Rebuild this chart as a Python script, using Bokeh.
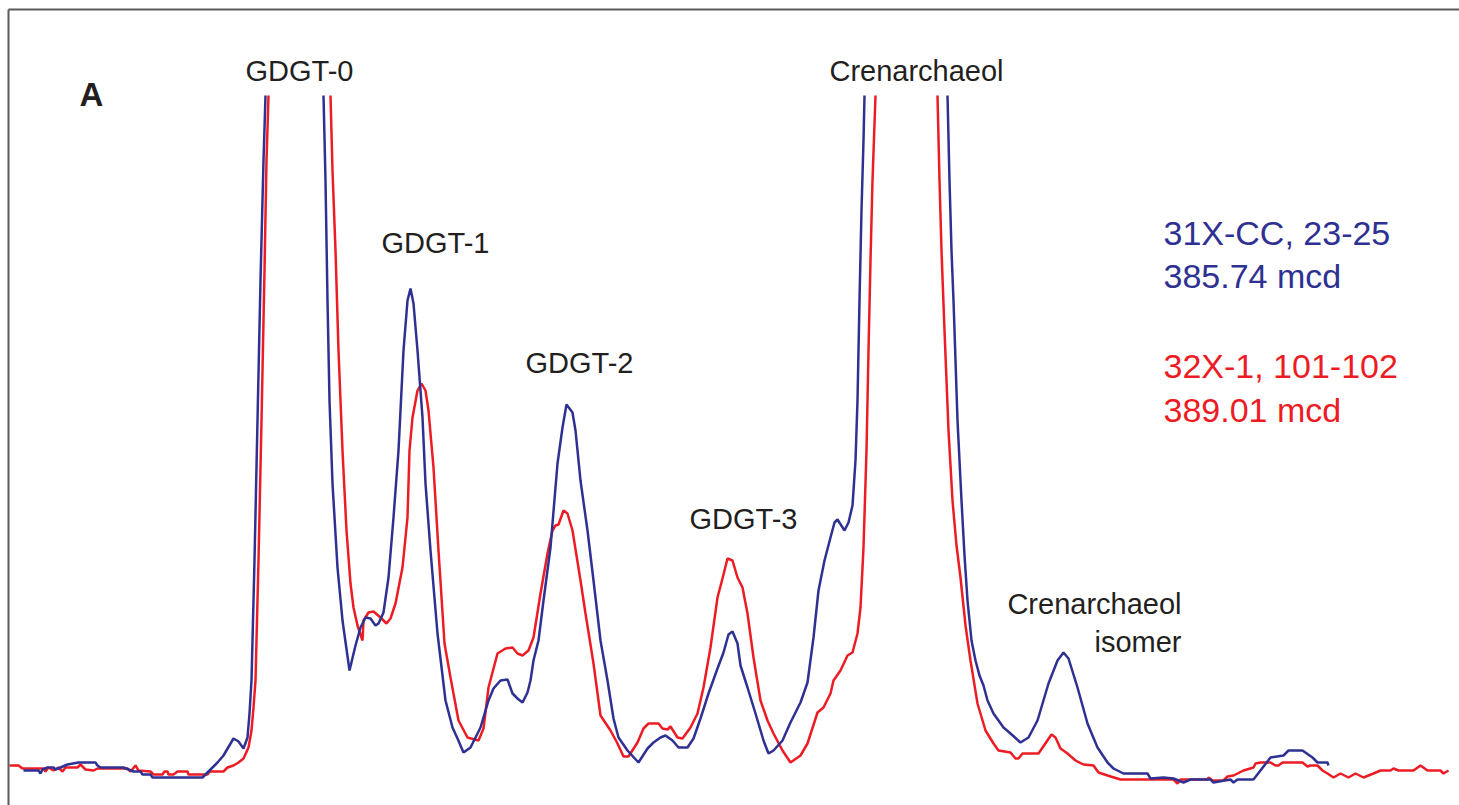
import math
from bokeh.plotting import figure
from bokeh.models import Range1d, LinearAxis, FixedTicker, ColumnDataSource
from bokeh.core.properties import value
from bokeh.embed import file_html
from bokeh.resources import INLINE

NaN = float("nan")

# Chromatogram traces: x = scan position, y = relative intensity (off-scale peaks stop at 695)
blue_x = [23, 38, 40, 42, 47, 53, 55, 60, 67, 78, 95, 97, 100, 123, 133, 140, 142, 150, 152, 202,
          205, 210, 217, 223, 233, 238, 243, 247, 249, 251, 254, 257, 260, 263, 265,
          NaN,
          323, 325, 327, 329, 332, 337, 342, 349, 355, 360, 365, 370, 375, 378, 383, 388, 393, 398, 403, 407,
          410, 413, 417, 422, 425, 430, 437, 445, 452, 457, 463, 470, 480, 488, 493, 500, 507, 512, 517, 522,
          527, 530, 533, 538, 543, 550, 557, 562, 566, 572, 575, 580, 587, 593, 600, 607, 613, 618, 627, 638,
          647, 653, 660, 665, 672, 678, 687, 693, 700, 708, 717, 723, 728, 732, 737, 740, 747, 755, 763, 768,
          773, 782, 790, 800, 807, 813, 818, 824, 830, 834, 837, 844, 848, 852, 855, 857, 859, 861, 863, 864,
          NaN,
          947, 949, 951, 953, 957, 961, 964, 967, 971, 975, 979, 983, 987, 993, 1003, 1010, 1020, 1028, 1037, 1048,
          1057, 1063, 1068, 1077, 1087, 1097, 1107, 1113, 1123, 1147, 1150, 1163, 1173, 1183, 1190, 1210, 1213, 1230,
          1233, 1237, 1253, 1270, 1283, 1288, 1302, 1312, 1317, 1327, 1328]
blue_y = [20, 20, 17, 21, 23, 23, 21, 23, 26, 28, 28, 25, 23, 23, 19, 19, 16, 16, 13, 13,
          16, 21, 28, 35, 52, 49, 42, 53, 77, 110, 230, 370, 510, 630, 695,
          NaN,
          695, 610, 490, 390, 307, 223, 170, 120, 145, 163, 173, 172, 165, 167, 178, 213, 273, 340, 440, 490,
          502, 487, 440, 373, 307, 240, 157, 90, 63, 52, 38, 43, 63, 90, 102, 110, 111, 97, 92, 88,
          98, 110, 130, 150, 190, 243, 327, 363, 386, 378, 360, 310, 260, 210, 150, 110, 72, 53, 40, 28,
          42, 48, 53, 55, 50, 43, 43, 52, 72, 97, 122, 138, 156, 159, 147, 125, 103, 77, 50, 37,
          40, 50, 68, 88, 108, 153, 200, 230, 253, 268, 271, 260, 268, 285, 330, 390, 490, 580, 650, 695,
          NaN,
          695, 610, 540, 490, 370, 290, 235, 190, 150, 130, 115, 105, 90, 77, 63, 57, 48, 53, 70, 107,
          130, 138, 132, 103, 67, 43, 28, 22, 17, 17, 12, 13, 12, 8, 11, 11, 8, 11,
          8, 11, 11, 33, 35, 40, 40, 33, 28, 28, 25]

red_x = [9, 18, 22, 43, 45, 48, 53, 58, 62, 65, 77, 80, 85, 93, 97, 127, 130, 135, 138, 150,
         153, 162, 164, 167, 168, 173, 177, 187, 188, 207, 209, 223, 227, 233, 238, 243, 248, 251, 253, 255,
         258, 261, 264, 266, 268,
         NaN,
         330, 332, 335, 338, 342, 346, 350, 353, 357, 362, 363, 368, 373, 380, 386, 390, 395, 402, 407, 409,
         412, 417, 421, 425, 428, 433, 438, 444, 450, 458, 467, 478, 483, 488, 497, 505, 512, 517, 522, 528,
         533, 540, 547, 552, 555, 558, 563, 567, 572, 580, 585, 593, 600, 610, 617, 623, 628, 637, 643, 648,
         658, 662, 667, 670, 677, 682, 690, 697, 703, 710, 717, 722, 727, 732, 737, 742, 747, 753, 760, 767,
         773, 782, 790, 800, 807, 817, 823, 830, 833, 840, 847, 852, 857, 860, 863, 866, 868, 870, 872, 875,
         NaN,
         937, 939, 941, 944, 948, 952, 956, 960, 965, 970, 977, 985, 993, 998, 1010, 1015, 1018, 1022, 1038, 1051,
         1055, 1060, 1067, 1075, 1083, 1093, 1098, 1107, 1120, 1173, 1177, 1180, 1207, 1208, 1212, 1223, 1227, 1233,
         1243, 1253, 1255, 1260, 1270, 1275, 1278, 1282, 1302, 1307, 1310, 1317, 1322, 1327, 1333, 1340, 1348, 1355,
         1363, 1373, 1380, 1390, 1393, 1398, 1413, 1420, 1427, 1440, 1443, 1448]
red_y = [25, 25, 22, 22, 19, 23, 20, 23, 19, 23, 23, 26, 21, 20, 22, 22, 19, 25, 20, 19,
         16, 16, 19, 19, 16, 16, 19, 19, 16, 16, 19, 19, 23, 25, 28, 32, 43, 60, 83, 110,
         230, 370, 520, 630, 695,
         NaN,
         695, 620, 540, 440, 340, 260, 207, 183, 165, 150, 170, 178, 179, 173, 167, 172, 187, 223, 273, 340,
         373, 400, 407, 400, 380, 323, 240, 147, 113, 70, 53, 50, 62, 103, 137, 142, 143, 137, 135, 140,
         153, 197, 237, 260, 265, 266, 280, 277, 260, 210, 177, 127, 75, 60, 47, 34, 34, 48, 62, 67,
         67, 62, 61, 64, 53, 52, 63, 77, 103, 143, 193, 212, 232, 230, 213, 203, 177, 133, 90, 70,
         57, 40, 28, 35, 47, 78, 83, 97, 110, 120, 135, 138, 157, 183, 243, 340, 440, 530, 610, 695,
         NaN,
         695, 610, 540, 460, 360, 290, 245, 213, 165, 130, 87, 60, 47, 40, 38, 32, 32, 37, 37, 56,
         53, 42, 37, 30, 26, 25, 18, 15, 11, 11, 7, 11, 11, 13, 10, 10, 14, 15,
         20, 23, 27, 28, 28, 25, 25, 28, 28, 24, 25, 25, 20, 17, 13, 17, 13, 17,
         13, 17, 20, 20, 22, 20, 20, 25, 20, 20, 17, 20]

# Peak labels
peak_labels = ["GDGT-0", "GDGT-1", "GDGT-2", "GDGT-3", "Crenarchaeol"]
peak_label_x = [299, 435, 579, 743, 916]
peak_label_y = [720, 548, 428, 272, 720]

isomer_labels = ["Crenarchaeol", "isomer"]
isomer_label_x = [1181, 1181]
isomer_label_y = [187, 149]

# Sample legend
blue_sample = ["31X-CC, 23-25", "385.74 mcd"]
red_sample = ["32X-1, 101-102", "389.01 mcd"]
legend_x = 1163
blue_legend_y = [558, 515]
red_legend_y = [425, 381]

BLUE = "#2E3192"
RED = "#ED1C24"
FONT = value("Liberation Sans")

p = figure(width=1459, height=805, output_backend="svg", toolbar_location=None,
           x_axis_type=None, y_axis_type=None,
           x_range=Range1d(8, 1459), y_range=Range1d(-15, 781),
           min_border_left=8, min_border_top=9, min_border_right=0, min_border_bottom=0)
p.outline_line_color = None
p.background_fill_color = "white"
p.border_fill_color = "white"

for loc in ("left", "above"):
    ax = LinearAxis(ticker=FixedTicker(ticks=[]), major_tick_out=0, major_tick_in=0,
                    minor_tick_out=0, minor_tick_in=0, major_label_standoff=0,
                    major_label_text_font_size="0px",
                    axis_line_color="#5a5a5a", axis_line_width=2)
    p.add_layout(ax, loc)

p.line(red_x, red_y, line_color=RED, line_width=2.5)
p.line(blue_x, blue_y, line_color=BLUE, line_width=2.5)

p.text(x=peak_label_x, y=peak_label_y, text=peak_labels, text_font=FONT,
       text_font_size="29px", text_color="#231F20", text_align="center", text_baseline="alphabetic")
p.text(x=isomer_label_x, y=isomer_label_y, text=isomer_labels, text_font=FONT,
       text_font_size="29px", text_color="#231F20", text_align="right", text_baseline="alphabetic")
p.text(x=[79], y=[696], text=["A"], text_font=FONT, text_font_style="bold",
       text_font_size="33px", text_color="#231F20", text_align="left", text_baseline="alphabetic")
p.text(x=[legend_x, legend_x], y=blue_legend_y, text=blue_sample, text_font=FONT,
       text_font_size="34px", text_color=BLUE, text_align="left", text_baseline="alphabetic")
p.text(x=[legend_x, legend_x], y=red_legend_y, text=red_sample, text_font=FONT,
       text_font_size="34px", text_color=RED, text_align="left", text_baseline="alphabetic")

open("out.html", "w").write(file_html(p, INLINE))
